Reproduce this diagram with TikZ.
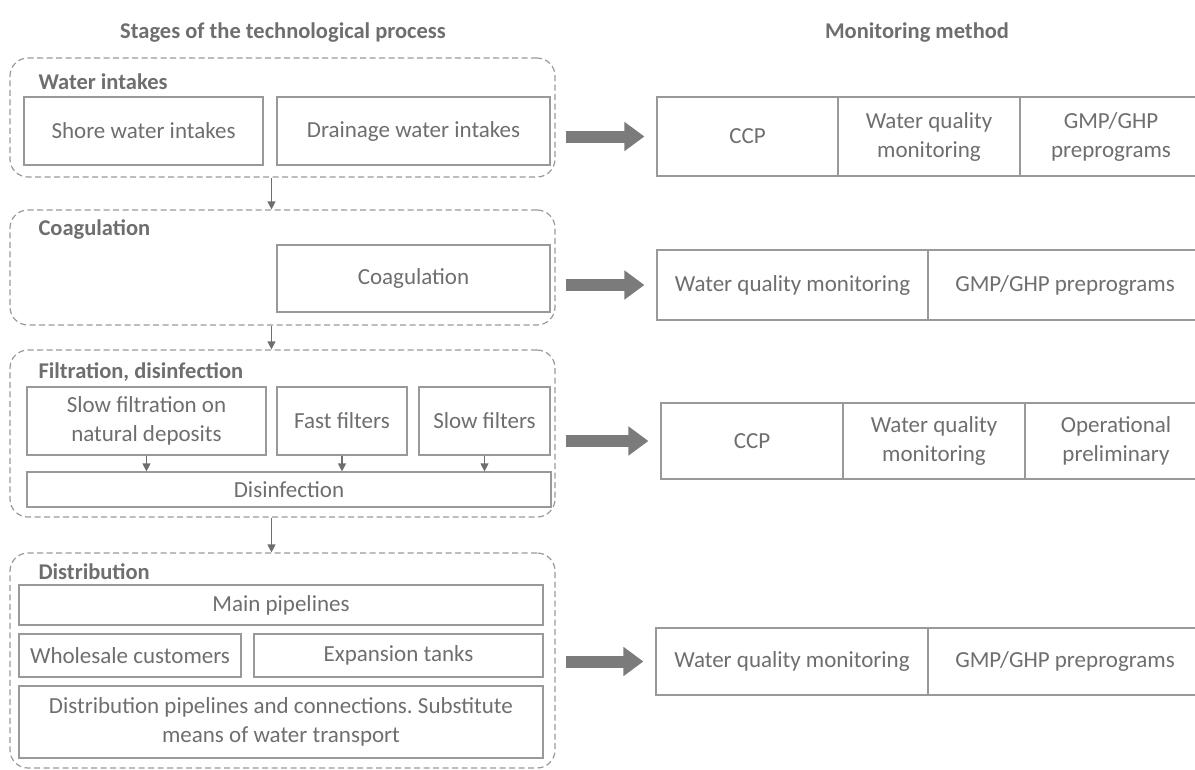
\documentclass[tikz,border=0pt]{standalone}
\usepackage{fontspec}
\setmainfont{Carlito}
\usetikzlibrary{arrows.meta}
\definecolor{linegray}{HTML}{999999}
\definecolor{textgray}{HTML}{6E6E6E}
\definecolor{arrowgray}{HTML}{7B7B7B}
\frenchspacing
\begin{document}
\begin{tikzpicture}[
		x=1pt, y=-1pt,
		every node/.style={font=\fontsize{23}{29}\selectfont, text=textgray},
		box/.style={draw=linegray, line width=1.2pt, rectangle, inner sep=0pt, align=center},
		group/.style={draw=linegray, dash pattern=on 6pt off 3.5pt, rounded corners=18pt, line width=1.2pt, inner sep=0pt},
		title/.style={font=\fontsize{22.5}{27}\selectfont\bfseries},
		small arrow/.style={draw=textgray, line width=1.2pt, -{Triangle[length=8pt,width=8pt]}},
		big arrow/.style={draw=arrowgray, line width=12pt, -{Triangle[length=20pt,width=28pt]}, shorten <=10pt, shorten >=12pt}
	]
	\useasboundingbox (0,0) rectangle (1195,769);
	\node[title] (stages) at (283,33) {Stages of the technological process};
	\node[title] (method) at (917,33) {Monitoring method};

	\node[group, minimum width=545, minimum height=119] (g1) at (282.5,117.5) {};
	\node[title, anchor=west] (g1t) at (35,82) {Water intakes};
	\node[box, minimum width=239, minimum height=68] (shore) at (143.5,131) {Shore water intakes};
	\node[box, minimum width=273, minimum height=68] (drain) at (413.5,131) {Drainage water intakes};

	\node[group, minimum width=545, minimum height=115] (g2) at (282.5,267.5) {};
	\node[title, anchor=west] (g2t) at (35,229) {Coagulation};
	\node[box, minimum width=273, minimum height=67] (coag) at (413.5,278.5) {Coagulation};

	\node[group, minimum width=545, minimum height=167] (g3) at (282.5,433.5) {};
	\node[title, anchor=west] (g3t) at (35,372) {Filtration, disinfection};
	\node[box, minimum width=239, minimum height=68] (natural) at (146.5,421) {Slow filtration on\\natural deposits};
	\node[box, minimum width=130, minimum height=68] (fast) at (342,421) {Fast filters};
	\node[box, minimum width=131, minimum height=68] (slow) at (484.5,421) {Slow filters};
	\node[box, minimum width=524, minimum height=35] (disinf) at (289,489.5) {Disinfection};

	\node[group, minimum width=545, minimum height=215] (g4) at (282.5,660.5) {};
	\node[title, anchor=west] (g4t) at (35,572) {Distribution};
	\node[box, minimum width=524, minimum height=40] (mainp) at (281,605) {Main pipelines};
	\node[box, minimum width=222, minimum height=43] (whole) at (130,655.5) {Wholesale customers};
	\node[box, minimum width=289, minimum height=43] (tanks) at (398.5,655.5) {Expansion tanks};
	\node[box, minimum width=524, minimum height=72] (distp) at (281,722) {Distribution pipelines and connections. Substitute\\means of water transport};

	\node[box, minimum width=181, minimum height=79] (m1a) at (747.5,136.5) {CCP};
	\node[box, minimum width=182, minimum height=79] (m1b) at (929,136.5) {Water quality\\monitoring};
	\node[box, minimum width=182, minimum height=79] (m1c) at (1111,136.5) {GMP/GHP\\preprograms};

	\node[box, minimum width=271, minimum height=70] (m2a) at (792.5,285) {Water quality monitoring};
	\node[box, minimum width=274, minimum height=70] (m2b) at (1065,285) {GMP/GHP preprograms};

	\node[box, minimum width=182, minimum height=76] (m3a) at (752,441) {CCP};
	\node[box, minimum width=182, minimum height=76] (m3b) at (934,441) {Water quality\\monitoring};
	\node[box, minimum width=182, minimum height=76] (m3c) at (1116,441) {Operational\\preliminary};

	\node[box, minimum width=272, minimum height=67] (m4a) at (792,661.5) {Water quality monitoring};
	\node[box, minimum width=274, minimum height=67] (m4b) at (1065,661.5) {GMP/GHP preprograms};

	\draw[small arrow] ([xshift=-11pt]g1.south) -- ([xshift=-11pt]g2.north);
	\draw[small arrow] ([xshift=-11pt]g2.south) -- ([xshift=-11pt]g3.north);
	\draw[small arrow] ([xshift=-11pt]g3.south) -- ([xshift=-11pt]g4.north);
	\foreach \n in {natural, fast, slow}
		\draw[small arrow] (\n.south) -- (\n.south |- disinf.north);

	\draw[big arrow] (g1.east |- m1a.west) -- (m1a.west);
	\draw[big arrow] (g2.east |- m2a.west) -- (m2a.west);
	\draw[big arrow] (g3.east |- m3a.west) -- (m3a.west);
	\draw[big arrow] (g4.east |- m4a.west) -- (m4a.west);
\end{tikzpicture}
\end{document}
